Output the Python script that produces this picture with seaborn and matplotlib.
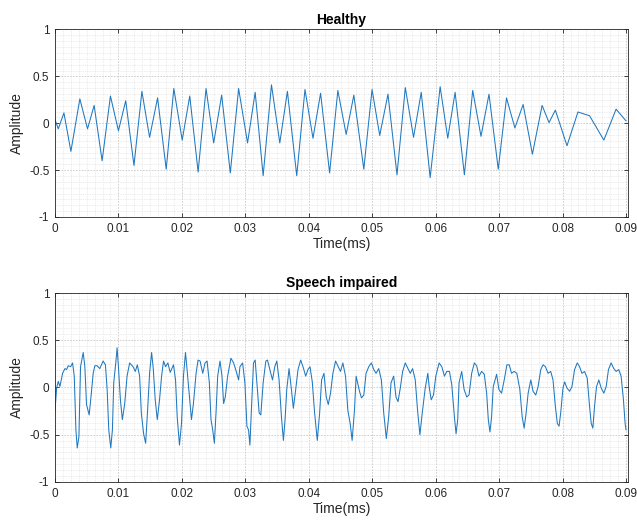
import matplotlib
matplotlib.use("Agg")
import matplotlib.pyplot as plt
import numpy as np
import pandas as pd
import seaborn as sns
from matplotlib.ticker import AutoMinorLocator

# ---------------- data ----------------
healthy_time = [0.0, 0.00052, 0.00141, 0.00251, 0.00392, 0.00513, 0.00617, 0.00743,
                0.00874, 0.01000, 0.01115, 0.01245, 0.01370, 0.01491, 0.01617, 0.01753,
                0.01873, 0.02005, 0.02124, 0.02256, 0.02381, 0.02501, 0.02627, 0.02763,
                0.02894, 0.03035, 0.03155, 0.03281, 0.03412, 0.03543, 0.03663, 0.03810,
                0.03940, 0.04066, 0.04186, 0.04328, 0.04458, 0.04589, 0.04710, 0.04867,
                0.04997, 0.05118, 0.05248, 0.05390, 0.05521, 0.05651, 0.05772, 0.05913,
                0.06070, 0.06190, 0.06306, 0.06452, 0.06583, 0.06714, 0.06840, 0.06986,
                0.07116, 0.07248, 0.07378, 0.07524, 0.07677, 0.07786, 0.07886, 0.08069,
                0.08242, 0.08425, 0.08650, 0.08843, 0.09000]
healthy_amp = [0.04, -0.06, 0.11, -0.30, 0.26, -0.06, 0.19, -0.40,
               0.29, -0.08, 0.24, -0.45, 0.34, -0.15, 0.27, -0.49,
               0.37, -0.18, 0.29, -0.52, 0.37, -0.21, 0.30, -0.53,
               0.37, -0.21, 0.33, -0.56, 0.41, -0.21, 0.34, -0.56,
               0.36, -0.16, 0.32, -0.53, 0.35, -0.12, 0.30, -0.49,
               0.36, -0.13, 0.31, -0.55, 0.38, -0.15, 0.33, -0.58,
               0.39, -0.16, 0.33, -0.55, 0.35, -0.14, 0.31, -0.49,
               0.27, -0.05, 0.20, -0.33, 0.19, 0.007, 0.14, -0.24,
               0.12, 0.08, -0.18, 0.15, 0.025]

impaired_time = [0.0, 0.00026, 0.00052, 0.00078, 0.00120, 0.00157, 0.00183, 0.00209,
                 0.00246, 0.00277, 0.00304, 0.00330, 0.00351, 0.00377, 0.00403, 0.00445,
                 0.00471, 0.00497, 0.00539, 0.00576, 0.00602, 0.00628, 0.00665, 0.00706,
                 0.00759, 0.00795, 0.00822, 0.00848, 0.00879, 0.00905, 0.00926, 0.00958,
                 0.00979, 0.01000, 0.01031, 0.01062, 0.01099, 0.01136, 0.01177, 0.01230,
                 0.01266, 0.01298, 0.01334, 0.01361, 0.01397, 0.01429, 0.01460, 0.01491,
                 0.01523, 0.01549, 0.01580, 0.01612, 0.01648, 0.01680, 0.01711, 0.01743,
                 0.01779, 0.01816, 0.01868, 0.01900, 0.01926, 0.01962, 0.01994, 0.02025,
                 0.02057, 0.02083, 0.02119, 0.02151, 0.02182, 0.02224, 0.02255, 0.02287,
                 0.02329, 0.02365, 0.02397, 0.02433, 0.02459, 0.02486, 0.02512, 0.02538,
                 0.02564, 0.02601, 0.02632, 0.02658, 0.02684, 0.02721, 0.02773, 0.02815,
                 0.02852, 0.02894,
                 0.02915, 0.02957, 0.02993, 0.03025, 0.03051, 0.03072, 0.03098, 0.03129,
                 0.03155, 0.03182, 0.03218, 0.03244, 0.03281, 0.03323, 0.03349, 0.03386,
                 0.03428, 0.03464, 0.03496, 0.03532, 0.03569, 0.03600, 0.03626, 0.03653,
                 0.03689, 0.03726, 0.03757, 0.03794, 0.03830, 0.03872, 0.03909, 0.03951,
                 0.03987, 0.04019, 0.04055, 0.04092, 0.04134, 0.04171, 0.04202, 0.04239,
                 0.04275, 0.04307, 0.04343, 0.04380, 0.04422, 0.04464, 0.04500, 0.04537,
                 0.04579, 0.04615, 0.04652, 0.04683, 0.04720, 0.04746, 0.04799, 0.04830,
                 0.04867, 0.04903, 0.04945, 0.04987, 0.05024, 0.05060, 0.05102, 0.05144,
                 0.05181, 0.05222, 0.05259, 0.05296, 0.05338, 0.05374, 0.05406, 0.05442,
                 0.05479, 0.05521, 0.05563, 0.05599, 0.05636, 0.05678, 0.05714, 0.05751,
                 0.05788, 0.05835, 0.05876,
                 0.05897, 0.05929, 0.05965, 0.06002, 0.06054, 0.06096, 0.06138, 0.06175,
                 0.06217, 0.06253, 0.06295, 0.06321, 0.06347, 0.06368, 0.06410, 0.06447,
                 0.06489, 0.06525, 0.06567, 0.06609, 0.06646, 0.06682, 0.06724, 0.06766,
                 0.06803, 0.06829, 0.06855, 0.06881, 0.06907, 0.06960, 0.06996, 0.07038,
                 0.07080, 0.07122, 0.07159, 0.07195, 0.07237, 0.07279, 0.07326, 0.07363,
                 0.07394, 0.07425, 0.07457, 0.07499, 0.07535, 0.07577, 0.07614, 0.07656,
                 0.07692, 0.07729, 0.07771, 0.07813, 0.07849, 0.07886, 0.07917, 0.07944,
                 0.07970, 0.08006, 0.08032, 0.08069, 0.08111, 0.08148, 0.08189, 0.08231,
                 0.08268, 0.08305, 0.08346, 0.08388, 0.08425, 0.08451, 0.08477, 0.08503,
                 0.08535, 0.08571, 0.08608, 0.08650, 0.08687, 0.08723, 0.08765, 0.08807,
                 0.08844, 0.08885, 0.08922, 0.08959, 0.08985, 0.09000]
impaired_amp = [-0.25, -0.006, 0.064, 0.011, 0.15, 0.20, 0.19, 0.23,
                0.22, 0.26, 0.12, -0.45, -0.64, -0.52, 0.22, 0.37,
                0.22, -0.18, -0.29, -0.04, 0.15, 0.23, 0.23, 0.20,
                0.28, 0.24, -0.02, -0.45, -0.64, -0.45, 0.05, 0.26,
                0.42, 0.22, -0.13, -0.34, -0.17, 0.12, 0.26, 0.22,
                0.17, 0.24, 0.12, -0.27, -0.49, -0.59, -0.24, 0.15,
                0.37, 0.20, -0.13, -0.34, -0.13, 0.12, 0.28, 0.22,
                0.26, 0.16, 0.24, 0.08, -0.31, -0.61, -0.38, 0.12,
                0.37, 0.18, -0.10, -0.34, -0.17, 0.15, 0.29, 0.28,
                0.15, 0.26, 0.28, 0.05, -0.34, -0.45, -0.59, -0.27,
                0.12, 0.28, 0.12, -0.17, -0.10, 0.12, 0.31, 0.26,
                0.18, 0.08,
                0.22, 0.26, 0.05, -0.41, -0.45, -0.61, -0.20, 0.26,
                0.29, 0.05, -0.27, -0.29, 0.05, 0.28, 0.29, 0.19,
                0.08, 0.22, 0.28, 0.08, -0.31, -0.56, -0.34, -0.02,
                0.20, -0.02, -0.22, -0.02, 0.19, 0.29, 0.22, 0.12,
                0.19, 0.22, 0.06, -0.27, -0.56, -0.27, 0.08, 0.15,
                -0.10, -0.18, -0.06, 0.15, 0.28, 0.22, 0.17, 0.26,
                0.12, -0.24, -0.38, -0.56, -0.24, 0.12, -0.04, -0.11,
                -0.08, 0.15, 0.22, 0.26, 0.19, 0.15, 0.20, 0.08,
                -0.27, -0.54, -0.31, 0.05, 0.12, -0.10, -0.15, -0.006,
                0.17, 0.26, 0.20, 0.15, 0.20, 0.08, -0.24, -0.50,
                -0.27, -0.006, 0.15,
                0.01, -0.13, -0.08, 0.12, 0.26, 0.22, 0.12, 0.17,
                0.17, 0.03, -0.31, -0.49, -0.34, 0.05, 0.17, -0.02,
                -0.10, -0.08, 0.15, 0.26, 0.23, 0.12, 0.17, 0.14,
                -0.06, -0.34, -0.47, -0.31, 0.01, 0.14, -0.02, -0.06,
                0.08, 0.24, 0.24, 0.15, 0.17, 0.15, -0.02, -0.31,
                -0.43, -0.27, -0.06, 0.08, -0.04, -0.08, 0.01, 0.19,
                0.24, 0.22, 0.15, 0.17, 0.08, -0.20, -0.38, -0.41,
                -0.27, -0.006, 0.06, -0.006, -0.04, 0.01, 0.19, 0.26,
                0.22, 0.15, 0.17, 0.10, -0.20, -0.38, -0.43, -0.20,
                0.01, 0.08, -0.006, -0.06, 0.01, 0.19, 0.26, 0.20,
                0.17, 0.19, 0.12, -0.13, -0.38, -0.45]

panel_titles = ["Healthy", "Speech impaired"]
x_label = "Time(ms)"
y_label = "Amplitude"
x_ticks = [0, 0.01, 0.02, 0.03, 0.04, 0.05, 0.06, 0.07, 0.08, 0.09]
x_tick_labels = ["0", "0.01", "0.02", "0.03", "0.04", "0.05", "0.06", "0.07", "0.08", "0.09"]
y_ticks = [-1, -0.5, 0, 0.5, 1]
y_tick_labels = ["-1", "-0.5", "0", "0.5", "1"]

# ---------------- styling ----------------
sns.set_theme(style="white")
plt.rcParams["font.family"] = ["Liberation Sans", "DejaVu Sans"]

LINE = "#1f78c0"
DARK = "#262626"

fig = plt.figure(figsize=(6.37, 5.21), dpi=100)
ax1 = fig.add_axes([0.0863, 0.5835, 0.8995, 0.3599])
ax2 = fig.add_axes([0.0863, 0.0749, 0.8995, 0.3627])

series = [(healthy_time, healthy_amp), (impaired_time, impaired_amp)]

for ax, (t, a), title in zip([ax1, ax2], series, panel_titles):
    df = pd.DataFrame({"t": t, "a": a})
    sns.lineplot(data=df, x="t", y="a", ax=ax, color=LINE, linewidth=0.75,
                 estimator=None, sort=False)
    ax.set_xlim(0, 0.0903)
    ax.set_ylim(-1, 1)
    ax.set_xticks(x_ticks)
    ax.set_xticklabels(x_tick_labels)
    ax.set_yticks(y_ticks)
    ax.set_yticklabels(y_tick_labels)
    ax.xaxis.set_minor_locator(AutoMinorLocator(8))
    ax.yaxis.set_minor_locator(AutoMinorLocator(8))
    ax.grid(True, which="major", color="#c8c8c8", linestyle=(0, (2, 1.5)), linewidth=0.6)
    ax.grid(True, which="minor", color="#dadada", linestyle=(0, (1, 1.5)), linewidth=0.5)
    ax.set_axisbelow(True)
    ax.tick_params(which="major", direction="in", top=True, right=True, length=3,
                   width=0.6, labelsize=8.5, colors=DARK, pad=4,
                   bottom=True, left=True)
    ax.tick_params(which="minor", length=0)
    for s in ax.spines.values():
        s.set_color(DARK)
        s.set_linewidth(0.6)
    ax.set_title(title, fontsize=10, fontweight="bold", color="black", pad=4)
    ax.set_xlabel(x_label, fontsize=10, color=DARK, labelpad=2)
    ax.set_ylabel(y_label, fontsize=10, color=DARK, labelpad=4)

fig.savefig("out.png", dpi=100)
